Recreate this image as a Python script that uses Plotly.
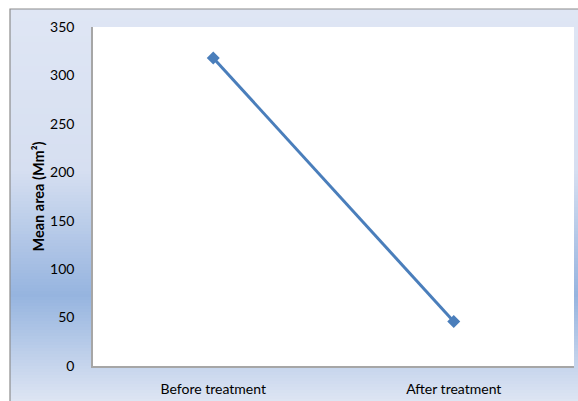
import plotly.graph_objects as go

categories = ["Before treatment", "After treatment"]
mean_area = [318, 46]
y_ticks = [0, 50, 100, 150, 200, 250, 300, 350]

W, H = 578, 401
ML, MR, MT, MB = 93, 4, 27, 35
PW, PH = W - ML - MR, H - MT - MB

def px_x(x):
    return (x - ML) / PW

def px_y(y):
    return (H - MB - y) / PH

fig = go.Figure()
fig.add_trace(go.Scatter(
    x=categories, y=mean_area, mode="lines+markers",
    line=dict(color="#4a7ebb", width=3),
    marker=dict(symbol="diamond", size=10, color="#4a7ebb"),
    showlegend=False, cliponaxis=False,
))

# gradient background (chart area)
stops = [(9, (223, 230, 244)), (170, (214, 223, 241)), (295, (150, 180, 223)), (401, (221, 229, 243))]

def col_at(y):
    for (y0, c0), (y1, c1) in zip(stops[:-1], stops[1:]):
        if y0 <= y <= y1:
            t = (y - y0) / (y1 - y0)
            return "rgb(%d,%d,%d)" % tuple(round(a + (b - a) * t) for a, b in zip(c0, c1))
    return "rgb(%d,%d,%d)" % stops[-1][1]

shapes = []
step = 3
y = 9
while y < 401:
    shapes.append(dict(type="rect", xref="paper", yref="paper", layer="below",
                       x0=px_x(10), x1=px_x(W + 5), y0=px_y(min(y + step + 0.5, 402)), y1=px_y(y),
                       fillcolor=col_at(y + step / 2), line=dict(width=0)))
    y += step
# white plot area
shapes.append(dict(type="rect", xref="paper", yref="paper", layer="below",
                   x0=0, x1=1, y0=0, y1=1, fillcolor="white", line=dict(width=0)))
# outer border
shapes.append(dict(type="rect", xref="paper", yref="paper", layer="below",
                   x0=px_x(10), x1=px_x(W + 20), y0=px_y(H + 20), y1=px_y(9),
                   fillcolor="rgba(0,0,0,0)", line=dict(color="#8c8c8c", width=1.2)))

fig.update_layout(
    width=W, height=H,
    margin=dict(l=ML, r=MR, t=MT, b=MB),
    paper_bgcolor="white", plot_bgcolor="rgba(0,0,0,0)",
    font=dict(family="Lato, Open Sans, sans-serif", size=14, color="#000000"),
    shapes=shapes,
    xaxis=dict(range=[-0.5, 1.5], showgrid=False, zeroline=False, showline=True,
               linecolor="#a6a6a6", linewidth=2, ticks="", ticklabelstandoff=9,
               tickfont=dict(size=14, family="Lato")),
    yaxis=dict(range=[0, 350], tickvals=y_ticks, showgrid=False, zeroline=False,
               showline=True, linecolor="#a6a6a6", linewidth=1.5, ticks="",
               ticklabelstandoff=14, tickfont=dict(size=14, family="Lato"),
               title=dict(text="<b>Mean area (Mm²)</b>", standoff=2,
                          font=dict(size=14.5, family="Lato"))),
)

fig.write_html("out.html", config={"displayModeBar": False},
               post_script="document.body.style.margin='0';document.body.style.overflow='hidden';")
